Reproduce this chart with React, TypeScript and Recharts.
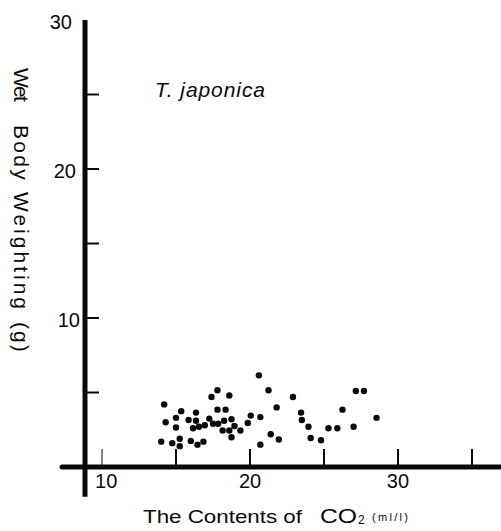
import { ScatterChart, Scatter, XAxis, YAxis, ReferenceLine } from 'recharts'

// CO2 content (ml/l) and wet body weight (g) for T. japonica
const co2Values = [
  14.2, 14.3, 14.0, 14.75, 15.0, 15.0, 15.25, 15.25, 15.35, 15.85,
  16.0, 16.15, 16.35, 16.35, 16.45, 16.55, 16.85, 16.95, 17.25, 17.5,
  17.4, 17.8, 17.8, 17.85, 18.25, 18.15, 18.35, 18.6, 18.6, 18.75,
  18.75, 18.95, 19.35, 19.85, 20.05, 20.7, 20.6, 20.7, 21.25, 21.4,
  21.8, 21.95, 22.9, 23.45, 23.5, 23.95, 24.1, 24.8, 25.3, 25.9,
  26.25, 27.0, 27.15, 27.7, 28.55
]
const weightValues = [
  4.2, 3.0, 1.7, 1.6, 3.3, 2.65, 1.9, 1.4, 3.75, 3.15,
  1.75, 2.6, 3.65, 3.1, 1.5, 2.7, 1.7, 2.8, 3.25, 2.9,
  4.7, 5.15, 3.85, 2.9, 3.1, 2.45, 3.85, 4.8, 2.45, 3.2,
  2.0, 2.75, 2.45, 2.95, 3.45, 3.35, 6.15, 1.5, 5.15, 2.2,
  4.0, 1.85, 4.7, 3.65, 3.15, 2.7, 1.95, 1.8, 2.6, 2.6,
  3.85, 2.7, 5.1, 5.1, 3.3
]

const xTicks = [10, 15, 20, 25, 30, 35]
const xTickLabels = [10, 20, 30]
const yTicks = [0, 5, 10, 15, 20, 25, 30]
const yTickLabels = [10, 20, 30]

const data = co2Values.map((x, i) => ({ x, y: weightValues[i] }))

const FONT = '"Liberation Sans", Arial, sans-serif'
const INK = '#0a0a0a'

const XTick = (props: any) => {
  const { x, y, payload } = props
  const v = payload.value
  const first = v === 10
  return (
    <g>
      <line x1={x} y1={y - 2} x2={x} y2={y - 18} stroke={INK} strokeWidth={first ? 1 : 2} />
      {xTickLabels.includes(v) && (
        <text
          x={first ? x - 7 : x}
          y={y + 21}
          textAnchor={first ? 'start' : 'middle'}
          fontSize={20}
          fontFamily={FONT}
          fill={INK}
        >
          {v}
        </text>
      )}
    </g>
  )
}

const YTick = (props: any) => {
  const { x, y, payload } = props
  const v = payload.value
  // the printed axis leans a little, so the upper labels sit further left
  const shift = (v - 10) * 0.4
  return (
    <g>
      {v !== 0 && v !== 30 && (
        <line x1={x + 2} y1={y} x2={x + 14} y2={y} stroke={INK} strokeWidth={2} />
      )}
      {yTickLabels.includes(v) && (
        <text x={x - 5 - shift} y={y + 9} textAnchor="end" fontSize={20} fontFamily={FONT} fill={INK}>
          {v}
        </text>
      )}
    </g>
  )
}

const dot = (props: any) => <circle cx={props.cx} cy={props.cy} r={3.2} fill={INK} />

export default function App() {
  return (
    <div style={{ position: 'absolute', left: 0, top: 0, width: 501, height: 531, background: '#fff' }}>
      <ScatterChart width={501} height={531} margin={{ top: 20, right: 0, bottom: 34, left: 40 }}>
        <XAxis
          dataKey="x"
          type="number"
          domain={[8.85, 36.96]}
          allowDataOverflow
          ticks={xTicks}
          height={30}
          tickSize={0}
          tickMargin={0}
          tickLine={false}
          axisLine={{ stroke: INK, strokeWidth: 5 }}
          tick={<XTick />}
          interval={0}
        />
        <YAxis
          dataKey="y"
          type="number"
          domain={[0, 30]}
          allowDataOverflow
          ticks={yTicks}
          width={45}
          tickSize={0}
          tickMargin={0}
          tickLine={false}
          axisLine={{ stroke: INK, strokeWidth: 5 }}
          tick={<YTick />}
          interval={0}
        />
        {/* axis stubs that run past the origin */}
        <ReferenceLine
          segment={[{ x: 7.3, y: 0 }, { x: 8.85, y: 0 }]}
          stroke={INK}
          strokeWidth={5}
          strokeLinecap="round"
          ifOverflow="visible"
        />
        <ReferenceLine
          segment={[{ x: 8.85, y: -2 }, { x: 8.85, y: 0 }]}
          stroke={INK}
          strokeWidth={5}
          ifOverflow="visible"
        />
        <Scatter data={data} shape={dot} isAnimationActive={false} />
      </ScatterChart>
      <svg
        width={501}
        height={531}
        style={{ position: 'absolute', left: 0, top: 0, pointerEvents: 'none' }}
        fontFamily={FONT}
        fill={INK}
      >
        <text x={155} y={97} fontSize={21} fontStyle="italic" textLength={110} lengthAdjust="spacing">
          T. japonica
        </text>
        <g transform="translate(14,68) rotate(90)" fontSize={21}>
          <text x={0} y={0} letterSpacing={-1.5}>Wet</text>
          <text x={57} y={0} letterSpacing={2.3}>Body</text>
          <text x={124} y={0} letterSpacing={3}>Weighting</text>
          <text x={254} y={0} letterSpacing={2}>(g)</text>
        </g>
        <text x={143} y={523} fontSize={19} textLength={159} lengthAdjust="spacingAndGlyphs">
          The Contents of
        </text>
        <text x={320} y={523} fontSize={21} textLength={37} lengthAdjust="spacingAndGlyphs">CO</text>
        <text x={358} y={524} fontSize={12}>2</text>
        <text x={372} y={521} fontSize={11} textLength={36} lengthAdjust="spacing">(ml/l)</text>
      </svg>
    </div>
  )
}
